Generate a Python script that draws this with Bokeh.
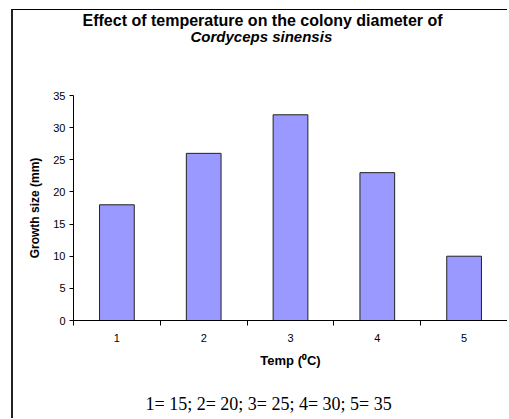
from bokeh.plotting import figure
from bokeh.models import Range1d, FixedTicker, Title
from bokeh.embed import file_html
from bokeh.resources import INLINE

categories = [1, 2, 3, 4, 5]
growth_mm = [18, 26, 32, 23, 10]
y_ticks = [0, 5, 10, 15, 20, 25, 30, 35]
boundaries = [0.5, 1.5, 2.5, 3.5, 4.5, 5.5]

title_line1 = "Effect of temperature on the colony diameter of"
title_line2 = "Cordyceps sinensis"
x_label = "Temp (\u2070C)"
y_label = "Growth size (mm)"
footnote = "1= 15; 2= 20; 3= 25; 4= 30; 5= 35"

p = figure(width=496, height=409, output_backend="svg", toolbar_location=None,
           x_range=Range1d(0.5, 5.5), y_range=Range1d(0, 35),
           min_border_left=60, min_border_right=2, min_border_top=0, min_border_bottom=0)
p.styles = {"border-left": "2px solid #222", "border-top": "1px solid #000",
            "margin-left": "11px", "margin-top": "9px"}
p.outline_line_color = None
p.xgrid.grid_line_color = None
p.ygrid.grid_line_color = None

p.vbar(x=categories, top=growth_mm, width=0.4, fill_color="#9999FF", line_color="#222222", line_width=1)

font = "Liberation Sans"
p.yaxis.ticker = FixedTicker(ticks=y_ticks)
p.xaxis.ticker = FixedTicker(ticks=categories, minor_ticks=boundaries)
for ax in (p.xaxis, p.yaxis):
    ax.axis_line_color = "#000000"
    ax.major_tick_line_color = "#000000"
    ax.major_label_text_font = font
    ax.major_label_text_font_size = "11px"
    ax.major_label_text_color = "#000000"
    ax.axis_label_text_font = font
    ax.axis_label_text_font_size = "12px"
    ax.axis_label_text_font_style = "bold"
    ax.axis_label_text_color = "#000000"
p.xaxis.axis_label_text_font_size = "13px"
p.yaxis.major_tick_out = 4
p.yaxis.major_tick_in = 0
p.yaxis.major_label_standoff = 4
p.yaxis.minor_tick_line_color = None
p.xaxis.major_tick_out = 0
p.xaxis.major_tick_in = 0
p.xaxis.minor_tick_out = 5
p.xaxis.minor_tick_in = 0
p.xaxis.minor_tick_line_color = "#000000"
p.xaxis.major_label_standoff = 8
p.xaxis.axis_label = x_label
p.yaxis.axis_label = y_label
p.yaxis.axis_label_standoff = 8
p.xaxis.axis_label_standoff = 8

# above: spacer (closest to plot), then subtitle line, then main line
p.add_layout(Title(text=" ", text_font=font, text_font_size="10px", standoff=40), "above")
p.add_layout(Title(text=title_line2, align="left", offset=117, text_font=font, text_font_size="15px",
                   text_font_style="bold italic", text_color="#000000", standoff=-4), "above")
p.add_layout(Title(text=title_line1, align="left", offset=9, text_font=font, text_font_size="16px",
                   text_font_style="bold", text_color="#000000", standoff=-2), "above")
# below: spacer after the axis, then footnote
p.add_layout(Title(text=" ", text_font=font, text_font_size="10px", standoff=2), "below")
p.add_layout(Title(text=footnote, align="left", offset=72, text_font="Liberation Serif", text_font_size="18px",
                   text_font_style="normal", text_color="#000000", standoff=12), "below")

open("out.html", "w").write(file_html(p, INLINE))
